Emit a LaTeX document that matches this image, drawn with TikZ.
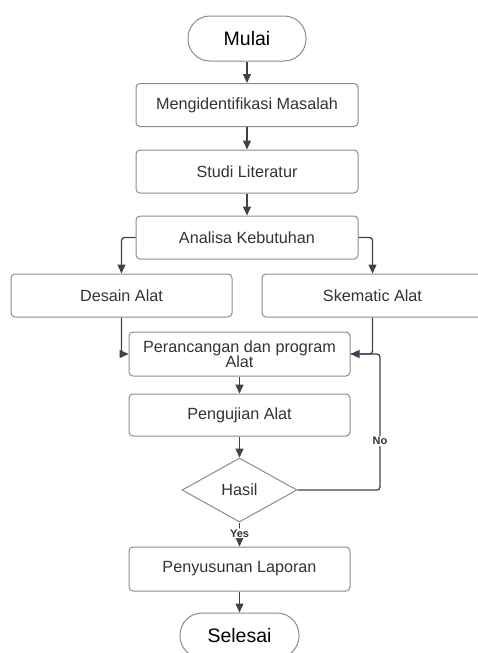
\documentclass[tikz,border=0pt]{standalone}
\usepackage{fontspec}
\setmainfont{Liberation Sans}
\usetikzlibrary{shapes.geometric,arrows.meta,calc}
\definecolor{boxline}{HTML}{8C8C8C}
\definecolor{arrline}{HTML}{3D424D}
\definecolor{txt}{HTML}{333333}
\begin{document}
\begin{tikzpicture}[x=1pt,y=-1pt,
  box/.style={draw=boxline, line width=1pt, rounded corners=4pt, fill=white,
    minimum width=221pt, minimum height=43pt, inner sep=2pt, text=txt,
    font=\fontsize{16.2}{15.5}\selectfont, align=center},
  term/.style={draw=boxline, line width=1pt, rounded corners=22pt, fill=white,
    minimum width=118pt, minimum height=45pt, inner sep=2pt, text=black,
    font=\fontsize{19.5}{22}\selectfont},
  dia/.style={draw=boxline, line width=1pt, diamond, aspect=1.8, fill=white,
    minimum width=115pt, minimum height=64pt, inner sep=0pt, text=txt,
    font=\fontsize{16.2}{18}\selectfont},
  arr/.style={draw=arrline, line width=1.3pt, rounded corners=3pt,
    -{Triangle[length=9pt,width=8pt]}},
  lnk/.style={draw=arrline, line width=1.3pt, rounded corners=3pt},
  lab/.style={fill=white, inner sep=1pt, text=txt, font=\fontsize{11}{12}\bfseries\selectfont}]
\useasboundingbox (0,0) rectangle (478,653);
\begin{scope}
\clip (0,0) rectangle (478,653);
\node[term] (mul) at (247,38.5) {Mulai};
\node[box, minimum width=222pt] (men) at (247,105) {Mengidentifikasi Masalah};
\node[box, minimum width=222pt] (stu) at (247,171.5) {Studi Literatur};
\node[box, minimum width=222pt] (ana) at (247,237.5) {Analisa Kebutuhan};
\node[box] (des) at (121.5,295.5) {Desain Alat};
\node[box] (ske) at (372.5,295.5) {Skematic Alat};
\node[box, minimum height=44pt] (per) at (239.5,354) {Perancangan dan program\\Alat};
\node[box, minimum height=42pt] (pen) at (239.5,415) {Pengujian Alat};
\node[dia] (has) at (239.5,490) {Hasil};
\node[box, minimum height=44pt] (pel) at (239.5,569) {Penyusunan Laporan};
\node[term, minimum width=119pt] (sel) at (239.5,635.5) {Selesai};
\coordinate (nc) at (380,354);

\draw[arr] (mul) -- (men);
\draw[arr] (men) -- (stu);
\draw[arr] (stu) -- (ana);
\draw[arr] (ana.west) -| (des.north);
\draw[arr] (ana.east) -| (ske.north);
\draw[arr] (des.south) |- (per.west);
\draw[arr] (ske.south) |- (per.east);
\draw[arr] (per) -- (pen);
\draw[arr] (pen) -- (has);
\draw[lnk] (has.east) -| (nc) -- (per.east);
\draw[arr] (has.south) -- (pel.north) node[lab, pos=0.45] {Yes};
\node[lab] (no) at (380,441) {No};
\draw[arr] (pel) -- (sel);
\end{scope}
\end{tikzpicture}
\end{document}
